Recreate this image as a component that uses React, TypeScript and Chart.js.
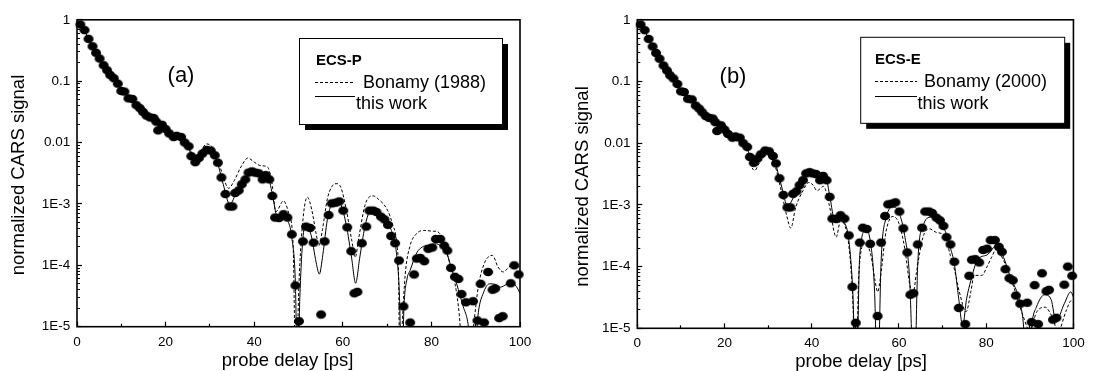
import React, { useEffect, useRef } from 'react';
import { Chart, registerables } from 'chart.js';

Chart.register(...registerables);

const FONT = '"Liberation Sans", Arial, Helvetica, sans-serif';
const H = 371;

// ---------------- data ----------------
// measured probe delays [ps] and normalized CARS signal (same data in both panels)
const DELAY_PS = [0.75, 1.7, 2.6, 3.5, 4.3, 5.1, 6.0, 6.8, 7.5, 8.3, 9.2, 10.0, 10.7, 11.6, 12.5, 13.4, 14.2, 14.9, 15.7, 16.5, 17.3, 17.9, 18.3, 19.2, 20.0, 20.8, 21.8, 22.5, 23.5, 24.3, 25.2, 25.8, 26.7, 27.5, 28.3, 29.3, 30.2, 31.1, 31.8, 32.6, 33.5, 34.4, 35.1, 35.7, 36.5, 37.2, 38.0, 38.7, 39.5, 40.2, 41.0, 41.9, 42.6, 43.4, 44.1, 44.7, 45.6, 46.6, 47.5, 48.5, 49.3, 50.1, 51.0, 51.7, 52.6, 53.4, 55.1, 55.9, 56.8, 57.5, 58.4, 59.2, 60.1, 61.0, 61.9, 62.6, 63.3, 64.3, 65.3, 66.0, 66.9, 67.6, 68.6, 69.4, 70.2, 70.9, 71.8, 72.7, 73.7, 75.2, 76.1, 76.7, 77.5, 78.4, 79.3, 80.2, 81.0, 82.0, 82.9, 83.6, 84.4, 85.3, 86.1, 86.8, 87.8, 89.4, 90.4, 91.1, 91.9, 92.8, 93.8, 94.4, 95.3, 96.1, 97.9, 98.7, 99.7];
const CARS_SIGNAL = [0.84, 0.68, 0.49, 0.37, 0.29, 0.234, 0.182, 0.151, 0.126, 0.112, 0.0912, 0.0692, 0.0676, 0.0525, 0.0513, 0.0407, 0.0363, 0.0316, 0.0275, 0.0257, 0.0251, 0.0219, 0.0158, 0.0195, 0.0166, 0.0141, 0.0123, 0.0129, 0.0123, 0.0100, 0.0087, 0.0060, 0.0048, 0.0056, 0.0066, 0.0076, 0.0074, 0.0062, 0.0047, 0.0027, 0.00145, 0.00091, 0.00091, 0.00151, 0.00166, 0.00209, 0.00251, 0.00324, 0.00339, 0.00324, 0.00316, 0.00251, 0.00295, 0.00251, 0.00135, 0.0006, 0.00059, 0.00068, 0.0006, 0.00032, 4.7e-5, 1.23e-5, 2.45e-4, 4.27e-4, 4.07e-4, 2.34e-4, 1.58e-5, 2.45e-4, 6.6e-4, 1.02e-3, 1.05e-3, 1.1e-3, 7.8e-4, 4.17e-4, 1.7e-4, 3.5e-5, 3.7e-5, 2.29e-4, 4.27e-4, 7.8e-4, 7.8e-4, 7.4e-4, 6.2e-4, 5.6e-4, 4.57e-4, 3.0e-4, 2.29e-4, 1.2e-4, 2.14e-5, 1.17e-5, 7.1e-5, 1.29e-4, 1.32e-4, 1.17e-4, 1.86e-4, 1.95e-4, 2.69e-4, 2.69e-4, 2.09e-4, 1.74e-4, 9.1e-5, 6.5e-5, 6.0e-5, 3.4e-5, 2.5e-5, 2.6e-5, 1.26e-5, 5.0e-5, 1.17e-5, 7.8e-5, 4.0e-5, 4.2e-5, 1.38e-5, 1.48e-5, 5.1e-5, 1.0e-4, 7.1e-5];

// (a) ECS-P: this work
const P_THIS_T = [0, 2, 4, 6, 8, 10, 12, 14, 16, 18, 20, 22, 24, 25, 26, 27, 28, 29.5, 30.5, 31.5, 33, 34.5, 36, 37.5, 39, 40.5, 42, 43.2, 44.2, 45.2, 46.5, 47.5, 48.5, 49.3, 49.8, 50.3, 51.5, 52.8, 54, 54.7, 55.5, 56.5, 57.5, 58.6, 59.6, 60.8, 62, 62.9, 63.8, 65, 66, 66.9, 68, 69.5, 70.5, 71.5, 72.1, 72.8, 73.3, 73.8, 74.5, 75.2, 76.7, 78, 79, 81.2, 82.5, 83.5, 84.5, 85.7, 87.2, 88.2, 89.5, 90.6, 91.7, 93.1, 94.4, 95.5, 97, 98.1, 99.2, 100];
const P_THIS_V = [0.95, 0.6, 0.32, 0.18, 0.12, 0.072, 0.051, 0.037, 0.027, 0.021, 0.0165, 0.0128, 0.0105, 0.0088, 0.0058, 0.0052, 0.0066, 0.0077, 0.0072, 0.0053, 0.0021, 0.00098, 0.00155, 0.0023, 0.0033, 0.0031, 0.0027, 0.0026, 0.0013, 0.00062, 0.00066, 0.00055, 0.00028, 5e-5, 1e-6, 3e-5, 4.4e-4, 3.2e-4, 1.1e-4, 7.2e-5, 1.5e-4, 5.5e-4, 1.0e-3, 1.12e-3, 9.5e-4, 4.5e-4, 1.3e-4, 5.1e-5, 1.3e-4, 4.3e-4, 7.5e-4, 8.5e-4, 7.5e-4, 5.5e-4, 4.4e-4, 2.8e-4, 1.6e-4, 3e-5, 1e-6, 2e-5, 6e-5, 8.3e-5, 1.6e-4, 2.0e-4, 2.1e-4, 2.24e-4, 1.9e-4, 1.55e-4, 9e-5, 5e-5, 2.1e-5, 1.2e-5, 2e-6, 1.7e-5, 3.5e-5, 5.0e-5, 4.9e-5, 4.4e-5, 4.9e-5, 5.2e-5, 4.5e-5, 3.5e-5];
// (a) ECS-P: Bonamy (1988)
const P_BON_T = [0, 2, 4, 6, 8, 10, 12, 14, 16, 18, 20, 22, 24, 25, 26, 27, 28, 29.3, 30.5, 31.5, 33, 34.2, 35.5, 37, 38.6, 40, 41.5, 43, 44, 44.9, 46.6, 47.8, 48.8, 49.4, 50.1, 51, 52, 53, 54, 54.6, 55.4, 56.5, 57.5, 58.5, 59.5, 60.8, 62, 62.8, 63.6, 65, 66, 66.9, 68, 70.1, 71.3, 72.1, 72.6, 72.9, 73.4, 74.1, 75.2, 76.5, 78.2, 80.4, 81.5, 82.5, 83.5, 84.5, 85.7, 86.5, 87.2, 88, 89.5, 90.6, 92, 93.8, 95, 96.2, 97.3, 98.4, 99.3, 100];
const P_BON_V = [0.95, 0.6, 0.32, 0.18, 0.12, 0.073, 0.052, 0.038, 0.028, 0.022, 0.0175, 0.0135, 0.011, 0.0095, 0.0065, 0.006, 0.0075, 0.0095, 0.0085, 0.0062, 0.0028, 0.0018, 0.0024, 0.004, 0.0056, 0.0048, 0.0042, 0.004, 0.0022, 0.00075, 0.00112, 0.0007, 0.0002, 1e-6, 5e-5, 5.5e-4, 1.29e-3, 8e-4, 3.2e-4, 2.1e-4, 3.8e-4, 1.2e-3, 1.9e-3, 2.14e-3, 1.9e-3, 8e-4, 2.6e-4, 1.35e-4, 2.8e-4, 9.5e-4, 1.3e-3, 1.35e-3, 1.2e-3, 7.9e-4, 4.5e-4, 2.5e-4, 6e-5, 1e-6, 1e-5, 7.2e-5, 2.1e-4, 3.2e-4, 3.7e-4, 3.6e-4, 3.5e-4, 2.7e-4, 1.6e-4, 8.5e-5, 3.5e-5, 1e-5, 1e-6, 1e-6, 1e-5, 4.5e-5, 1.1e-4, 1.45e-4, 9.5e-5, 7.8e-5, 9e-5, 1.07e-4, 1.0e-4, 8.9e-5];
// (b) ECS-E: this work
const E_THIS_T = [0, 2, 4, 6, 8, 10, 12, 14, 16, 18, 20, 22, 24, 25, 26, 27, 28, 29.5, 30.5, 31.5, 33, 34.5, 35.5, 37, 39, 40.5, 42, 43.2, 44.2, 45.2, 46.4, 47.5, 48.5, 49.4, 50.2, 51, 52.4, 53.5, 54.4, 55.1, 55.9, 57, 58.8, 60, 61.3, 62.4, 63.5, 64.3, 65.5, 67.3, 69, 70.5, 71.8, 72.7, 73.7, 74.6, 75.5, 76.5, 78, 80.2, 82.5, 84, 85.5, 87.8, 88.6, 89.3, 90.5, 91.5, 93.4, 94.9, 96, 97.9, 99.4, 100];
const E_THIS_V = [0.95, 0.6, 0.32, 0.18, 0.12, 0.072, 0.051, 0.037, 0.027, 0.021, 0.0165, 0.0128, 0.0105, 0.0088, 0.006, 0.0052, 0.0064, 0.0076, 0.0071, 0.0052, 0.0021, 0.00095, 0.0012, 0.0021, 0.0032, 0.003, 0.0025, 0.0027, 0.0013, 0.00058, 0.00062, 0.00052, 0.00027, 4e-5, 1e-6, 1.5e-4, 3.9e-4, 2.4e-4, 4e-5, 1e-6, 1.2e-4, 6e-4, 9.3e-4, 7.5e-4, 3.2e-4, 7e-5, 1e-6, 1.1e-4, 4.5e-4, 6.3e-4, 5e-4, 3.9e-4, 2e-4, 1.1e-4, 3e-5, 1.1e-5, 3e-5, 6e-5, 1.29e-4, 1.55e-4, 2.24e-4, 1.4e-4, 6.9e-5, 2.5e-5, 1e-5, 1e-6, 1.2e-5, 2.2e-5, 3.5e-5, 2.9e-5, 1.3e-5, 2.5e-5, 3.9e-5, 3.2e-5];
// (b) ECS-E: Bonamy (2000)
const E_BON_T = [0, 2, 4, 6, 8, 10, 12, 14, 16, 18, 20, 22, 24, 25, 26, 26.9, 28, 29.5, 30.5, 31.5, 33, 34.3, 35.2, 36.3, 38, 39.3, 40.3, 41.2, 42.7, 44, 45.6, 46.6, 47.5, 48.5, 49.4, 50.1, 50.8, 52.2, 53.5, 54.5, 55.1, 55.8, 57, 58.6, 60, 61.3, 62.5, 63.2, 64, 65.5, 67, 68.5, 70.5, 71.8, 72.7, 73.8, 75.4, 76.5, 77.2, 79, 80.2, 81.2, 82.3, 84, 86.3, 88.5, 90, 91.5, 93.5, 95, 96.5, 98.3, 99.5, 100];
const E_BON_V = [0.95, 0.6, 0.32, 0.18, 0.118, 0.07, 0.049, 0.036, 0.026, 0.02, 0.0155, 0.0118, 0.0095, 0.008, 0.0045, 0.0036, 0.0048, 0.0063, 0.006, 0.0045, 0.0017, 0.00065, 0.00042, 0.0009, 0.0017, 0.0023, 0.0021, 0.0017, 0.002, 0.001, 0.0003, 0.00055, 0.00048, 0.00022, 3e-5, 1e-6, 8e-5, 2.4e-4, 1.6e-4, 6e-5, 3.9e-5, 7e-5, 3.6e-4, 6.5e-4, 5e-4, 2e-4, 5e-5, 3.5e-5, 8e-5, 3e-4, 4.1e-4, 3.6e-4, 3.1e-4, 1.5e-4, 9e-5, 4e-5, 1.86e-5, 4e-5, 7.2e-5, 7.2e-5, 1e-4, 1.4e-4, 1.9e-4, 1.25e-4, 4.7e-5, 1.55e-5, 9e-6, 1.8e-5, 2.2e-5, 1.6e-5, 9e-6, 1.9e-5, 2.8e-5, 2.6e-5];

// ticks
const X_TICKS = [0, 20, 40, 60, 80, 100];
const X_MINOR_TICKS = [10, 30, 50, 70, 90];
const Y_DECADES = [1e-5, 1e-4, 1e-3, 0.01, 0.1, 1];
const Y_LABELS = ['1E-5', '1E-4', '1E-3', '0.01', '0.1', '1'];
const Y_MINOR_MULT = [2, 3, 4, 5, 6, 7, 8, 9];

// texts
const X_TITLE = 'probe delay [ps]';
const Y_TITLE = 'normalized CARS signal';
const THIS_LABEL = 'this work';

const toXY = (xs: number[], ys: number[]) => xs.map((x, i) => ({ x, y: ys[i] }));

type PanelCfg = {
  left: number; width: number;
  padTop: number; padRight: number; yAxisW: number; xAxisH: number;
  thisT: number[]; thisV: number[]; refT: number[]; refV: number[]; refLabel: string;
  overlay: any;
};

const PANELS: PanelCfg[] = [
  {
    left: 0, width: 548, padTop: 17.5, padRight: 28, yAxisW: 77, xAxisH: 44.3,
    thisT: P_THIS_T, thisV: P_THIS_V, refT: P_BON_T, refV: P_BON_V, refLabel: 'Bonamy (1988)',
    overlay: {
      label: '(a)', labelX: 181, labelY: 76, labelSize: 22,
      xTitleX: 287.5, xTitleY: 366, yTitleX: 19, yTitleY: 175, titleSize: 18.5,
      lg: { x: 299.5, y: 38.5, w: 203, h: 86, sh: 5.5, title: 'ECS-P', tx: 316, ty: 65,
        s1: 315, s2: 355, dashY: 82.5, solidY: 96.5, rx: 363, ry: 87.5, wx: 356, wy: 109 },
    },
  },
  {
    left: 548, width: 549, padTop: 19.3, padRight: 15, yAxisW: 89.3, xAxisH: 42.7,
    thisT: E_THIS_T, thisV: E_THIS_V, refT: E_BON_T, refV: E_BON_V, refLabel: 'Bonamy (2000)',
    overlay: {
      label: '(b)', labelX: 185, labelY: 77, labelSize: 22,
      xTitleX: 313, xTitleY: 366.5, yTitleX: 34.5, yTitleY: 186.5, titleSize: 18.5,
      lg: { x: 312.7, y: 37.3, w: 204, h: 86, sh: 5.5, title: 'ECS-E', tx: 327, ty: 64,
        s1: 327, s2: 369, dashY: 81.5, solidY: 96.5, rx: 376, ry: 86.5, wx: 369.5, wy: 108.5 },
    },
  },
];

const overlayPlugin = {
  id: 'overlay',
  afterDraw(chart: any, _args: any, o: any) {
    const { ctx, chartArea: a } = chart;
    ctx.save();
    // frame
    ctx.strokeStyle = '#000';
    ctx.lineWidth = 1.6;
    ctx.strokeRect(a.left, a.top, a.right - a.left, a.bottom - a.top);
    ctx.fillStyle = '#000';
    // panel label
    ctx.font = `${o.labelSize}px ${FONT}`;
    ctx.textAlign = 'center';
    ctx.textBaseline = 'middle';
    ctx.fillText(o.label, o.labelX, o.labelY);
    // axis titles
    ctx.font = `${o.titleSize}px ${FONT}`;
    ctx.textBaseline = 'alphabetic';
    ctx.fillText(X_TITLE, o.xTitleX, o.xTitleY);
    ctx.save();
    ctx.translate(o.yTitleX, o.yTitleY);
    ctx.rotate(-Math.PI / 2);
    ctx.textBaseline = 'middle';
    ctx.fillText(Y_TITLE, 0, 0);
    ctx.restore();
    // legend
    const L = o.lg;
    ctx.fillStyle = '#000';
    ctx.fillRect(L.x + L.sh, L.y + L.sh, L.w, L.h);
    ctx.fillStyle = '#fff';
    ctx.fillRect(L.x, L.y, L.w, L.h);
    ctx.lineWidth = 1;
    ctx.strokeStyle = '#000';
    ctx.strokeRect(L.x, L.y, L.w, L.h);
    ctx.fillStyle = '#000';
    ctx.textAlign = 'left';
    ctx.textBaseline = 'alphabetic';
    ctx.font = `bold 15px ${FONT}`;
    ctx.fillText(L.title, L.tx, L.ty);
    ctx.font = `18px ${FONT}`;
    const ds = chart.data.datasets;
    ctx.lineWidth = 1;
    ctx.setLineDash([3, 2]);
    ctx.beginPath();
    ctx.moveTo(L.s1, L.dashY);
    ctx.lineTo(L.s2, L.dashY);
    ctx.stroke();
    ctx.setLineDash([]);
    ctx.beginPath();
    ctx.moveTo(L.s1, L.solidY);
    ctx.lineTo(L.s2, L.solidY);
    ctx.stroke();
    ctx.fillText(ds[2].label, L.rx, L.ry);
    ctx.fillText(ds[1].label, L.wx, L.wy);
    ctx.restore();
  },
};

function makeDot(w: number, h: number) {
  const c = document.createElement('canvas');
  c.width = 12;
  c.height = 12;
  const g = c.getContext('2d') as CanvasRenderingContext2D;
  g.fillStyle = '#000';
  g.beginPath();
  g.ellipse(6, 6, w / 2, h / 2, 0, 0, Math.PI * 2);
  g.fill();
  return c;
}

function Panel({ cfg }: { cfg: PanelCfg }) {
  const ref = useRef<HTMLCanvasElement>(null);
  useEffect(() => {
    const tickFont = { size: 13.5, family: FONT };
    const yMinor = Y_DECADES.slice(0, -1).flatMap((d) => Y_MINOR_MULT.map((m) => m * d));
    const dot = makeDot(10, 8.6);
    const chart = new Chart(ref.current as HTMLCanvasElement, {
      type: 'line',
      data: {
        datasets: [
          {
            label: 'measured',
            data: toXY(DELAY_PS, CARS_SIGNAL),
            showLine: false,
            pointStyle: dot,
            pointRadius: 5,
            pointHoverRadius: 5,
            pointBackgroundColor: '#000',
            pointBorderWidth: 0,
            borderColor: '#000',
            backgroundColor: '#000',
            clip: false,
          } as any,
          {
            label: THIS_LABEL,
            data: toXY(cfg.thisT, cfg.thisV),
            borderColor: '#000',
            borderWidth: 1,
            pointRadius: 0,
            cubicInterpolationMode: 'monotone',
            fill: false,
          },
          {
            label: cfg.refLabel,
            data: toXY(cfg.refT, cfg.refV),
            borderColor: '#000',
            borderWidth: 1,
            borderDash: [3, 2],
            pointRadius: 0,
            cubicInterpolationMode: 'monotone',
            fill: false,
          },
        ],
      },
      options: {
        responsive: false,
        animation: false,
        events: [],
        layout: { padding: { left: 0, top: cfg.padTop, right: cfg.padRight, bottom: 0 } },
        plugins: {
          legend: { display: false },
          tooltip: { enabled: false },
          overlay: cfg.overlay,
        } as any,
        scales: {
          x: {
            type: 'linear', position: 'bottom', weight: 1, min: 0, max: 100,
            afterBuildTicks: (s: any) => { s.ticks = X_TICKS.map((value) => ({ value })); },
            afterFit: (s: any) => { s.height = cfg.xAxisH; },
            ticks: { font: tickFont, color: '#000', padding: 12.3, maxRotation: 0, autoSkip: false },
            grid: { drawOnChartArea: false, drawTicks: true, tickLength: -5, tickColor: '#000', tickWidth: 1.2 },
            border: { display: false },
          },
          x2: {
            type: 'linear', axis: 'x', position: 'bottom', weight: 0, min: 0, max: 100,
            afterBuildTicks: (s: any) => { s.ticks = X_MINOR_TICKS.map((value) => ({ value })); },
            afterFit: (s: any) => { s.height = 0; },
            ticks: { display: false, autoSkip: false },
            grid: { drawOnChartArea: false, drawTicks: true, tickLength: -3, tickColor: '#000', tickWidth: 1.2 },
            border: { display: false },
          },
          y: {
            type: 'logarithmic', position: 'left', weight: 1, min: 1e-5, max: 1,
            afterBuildTicks: (s: any) => { s.ticks = Y_DECADES.map((value) => ({ value, major: true })); },
            afterFit: (s: any) => { s.width = cfg.yAxisW; },
            ticks: {
              font: tickFont, color: '#000', padding: 11.7, autoSkip: false,
              callback: (_v: any, i: number) => Y_LABELS[i],
            },
            grid: { drawOnChartArea: false, drawTicks: true, tickLength: -5, tickColor: '#000', tickWidth: 1.2 },
            border: { display: false },
          },
          y2: {
            type: 'logarithmic', axis: 'y', position: 'left', weight: 0, min: 1e-5, max: 1,
            afterBuildTicks: (s: any) => { s.ticks = yMinor.map((value) => ({ value })); },
            afterFit: (s: any) => { s.width = 0; },
            ticks: { display: false, autoSkip: false },
            grid: { drawOnChartArea: false, drawTicks: true, tickLength: -3, tickColor: '#000', tickWidth: 1 },
            border: { display: false },
          },
        } as any,
      },
      plugins: [overlayPlugin],
    });
    return () => chart.destroy();
  }, [cfg]);
  return (
    <canvas
      ref={ref}
      width={cfg.width}
      height={H}
      style={{ position: 'absolute', left: cfg.left, top: 0, width: cfg.width, height: H }}
    />
  );
}

export default function App() {
  return (
    <div style={{ position: 'absolute', left: 0, top: 0, width: 1097, height: H, background: '#fff' }}>
      {PANELS.map((p, i) => (
        <Panel key={i} cfg={p} />
      ))}
    </div>
  );
}
